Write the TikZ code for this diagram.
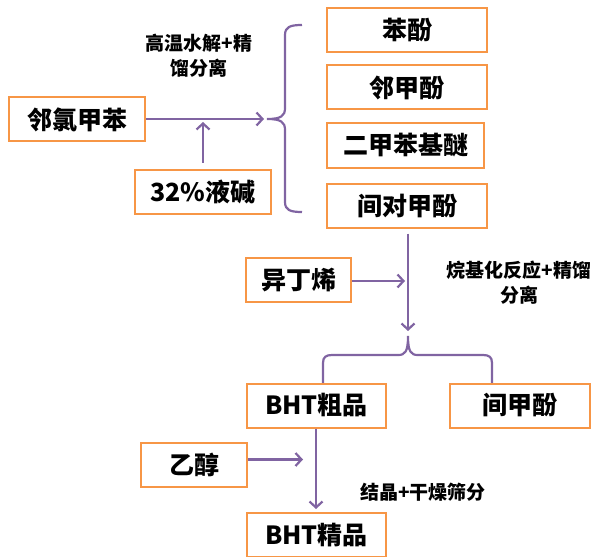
\documentclass[tikz,border=0pt]{standalone}
\usepackage{fontspec}
\setmainfont{Noto Sans CJK SC}
\usetikzlibrary{arrows.meta}
\definecolor{boxorange}{HTML}{F79646}
\definecolor{linepurple}{HTML}{8064A2}
\begin{document}
\begin{tikzpicture}[x=1pt,y=-1pt,
  box/.style={draw=boxorange,line width=2pt,fill=white,minimum height=44pt,inner sep=0pt,
    font=\fontsize{25}{28}\selectfont\bfseries},
  flow/.style={draw=linepurple,line width=2.2pt},
  arr/.style={flow,-{Straight Barb[length=6pt,width=13pt]}},
  lbl/.style={font=\fontsize{19}{25}\selectfont\bfseries,align=center,inner sep=0pt}]
\useasboundingbox (0,0) rectangle (596,556);
% braces
\draw[flow] (302,25) .. controls (290,25) and (285,27) .. (285,35) -- (285,108)
  .. controls (285,116) and (281,119) .. (267,119)
  .. controls (281,119) and (285,122) .. (285,130) -- (285,202)
  .. controls (285,210) and (290,212) .. (302,212);
\draw[flow] (323,384) -- (323,363) .. controls (323,357) and (326,355) .. (332,355) -- (398,355)
  .. controls (405,355) and (408,352) .. (408,336)
  .. controls (408,352) and (411,355) .. (418,355) -- (483,355)
  .. controls (489,355) and (492,357) .. (492,363) -- (492,384);
% boxes
\node[box,minimum width=136pt] (oct) at (77,119.5) {邻氯甲苯};
\node[box,minimum width=136pt] (alk) at (203,191.5) {32\%液碱};
\node[box,minimum width=160pt] (p1) at (407,30) {苯酚};
\node[box,minimum width=160pt] (p2) at (407,87.5) {邻甲酚};
\node[box,minimum width=157pt] (p3) at (405.5,145.5) {二甲苯基醚};
\node[box,minimum width=160pt] (p4) at (407,205.5) {间对甲酚};
\node[box,minimum width=105pt] (ib) at (298.5,280) {异丁烯};
\node[box,minimum width=139pt] (crude) at (316.5,405.5) {BHT粗品};
\node[box,minimum width=140pt] (mc) at (520,405.5) {间甲酚};
\node[box,minimum width=106pt] (eth) at (194,464.5) {乙醇};
\node[box,minimum width=139pt] (fine) at (316.5,535) {BHT精品};
% connector end points
\coordinate (c1) at (264,119);
\coordinate (c2) at (203,122);
\coordinate (c3) at (408,331);
\coordinate (c4) at (405,281);
\coordinate (c5) at (303,459.5);
\coordinate (c6) at (316,509);
% connectors
\draw[arr] (oct.east |- c1) -- (c1);
\draw[arr] ([yshift=6pt]alk.north) -- (c2);
\draw[arr] ([yshift=-5pt]p4.south -| c3) -- (c3);
\draw[arr] (ib.east |- c4) -- (c4);
\draw[arr] (eth.east |- c5) -- (c5);
\draw[arr] (crude.south -| c6) -- (c6);
% labels
\node[lbl] (l1) at (199,55.5) {高温水解+精\\馏分离};
\node[lbl] (l2) at (519,283) {烷基化反应+精馏\\分离};
\node[lbl] (l3) at (423,492) {结晶+干燥筛分};
\end{tikzpicture}
\end{document}
